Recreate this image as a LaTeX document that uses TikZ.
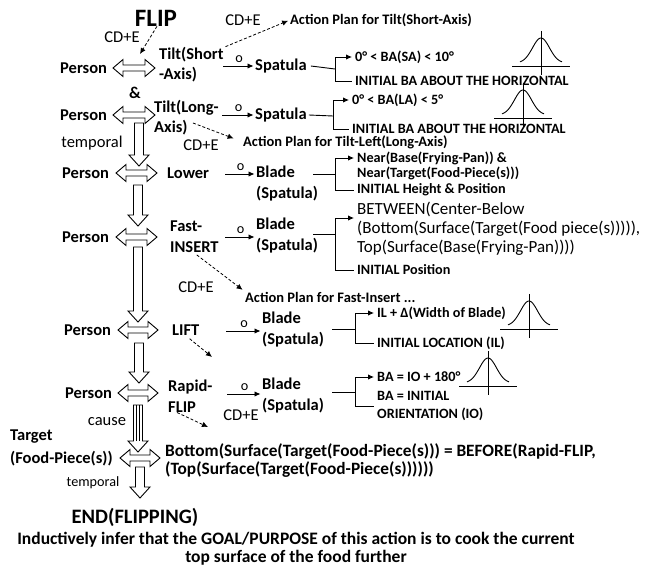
\documentclass[tikz,border=0pt]{standalone}
\usepackage{fontspec}
\setmainfont{Carlito}
\usetikzlibrary{arrows.meta,calc}

\newcommand\fsbig{\fontsize{16.5}{20}\selectfont}
\newcommand\fsnote{\fontsize{14.2}{16}\selectfont}

\tikzset{
  lbl/.style={
    inner sep = 0pt,            % text sits on its anchor
    anchor    = west,           % placed by its left edge
    align     = left,
    font      = \bfseries\fsbig,
  },
  note/.style={lbl, font=\bfseries\fsnote},
  plain/.style={lbl, anchor=center, font=\fsbig},
  twoline/.style={lbl, font=\bfseries\fontsize{16.5}{21}\selectfont},
  olbl/.style={midway, above=3pt, inner sep=0pt, font=\fsnote},
  hfat/.style={
    line width = .9pt,
    to path    = {let \p1=(\tikztostart), \p2=(\tikztotarget) in
      (\x1,\y1) -- (\x1+10pt,\y1+8.5pt) -- (\x1+10pt,\y1+3pt)
      -- (\x2-10pt,\y1+3pt) -- (\x2-10pt,\y1+8.5pt) -- (\x2,\y1)
      -- (\x2-10pt,\y1-8.5pt) -- (\x2-10pt,\y1-3pt)
      -- (\x1+10pt,\y1-3pt) -- (\x1+10pt,\y1-8.5pt) -- cycle},
  },
  vfat/.style={
    line width = .9pt,
    to path    = {let \p1=(\tikztostart), \p2=(\tikztotarget) in
      (\x1-4.5pt,\y1) -- (\x1-4.5pt,\y2+11pt) -- (\x1-10pt,\y2+11pt)
      -- (\x1,\y2) -- (\x1+10pt,\y2+11pt) -- (\x1+4.5pt,\y2+11pt)
      -- (\x1+4.5pt,\y1) -- cycle},
  },
  cfat/.style={
    line width = .9pt,
    to path    = {let \p1=(\tikztostart), \p2=(\tikztotarget) in
      (\x1-4.5pt,\y1) -- (\x1-4.5pt,\y2+11pt) -- (\x1-10pt,\y2+11pt)
      -- (\x1,\y2) -- (\x1+10pt,\y2+11pt) -- (\x1+4.5pt,\y2+11pt)
      -- (\x1+4.5pt,\y1) -- cycle
      (\x1-1.5pt,\y1) -- (\x1-1.5pt,\y2+11pt)
      (\x1+1.5pt,\y1) -- (\x1+1.5pt,\y2+11pt)},
  },
  dasharr/.style={line width=.8pt, dash pattern=on 3pt off 2pt,
    -{Latex[length=6pt,width=5.5pt]}},
  objarr/.style={line width=.9pt, shorten >=1.5pt,
    -{Latex[length=6pt,width=5.5pt]}},
  brk/.style={line width=.9pt, shorten >=3pt},
  bell/.pic={
    \draw [line width=.9pt] (-29,0) -- (29,0);
    \draw [line width=.9pt] (0,-35) -- (0,9);
    \draw [line width=.9pt] plot [domain=-21:21, samples=41, smooth]
      (\x, {-3-25*exp(-(\x*\x)/144)});
  },
}

\begin{document}
\begin{tikzpicture}[x=1pt, y=-1pt]
\useasboundingbox (0,0) rectangle (657,569);

% title
\node at (156,18) [lbl, anchor=center, font=\bfseries\fontsize{25}{28}\selectfont] (flip) {FLIP};
\node at (122,37) [plain] (cde1) {CD+E};
\coordinate (f1) at (140,54);
\draw [dasharr] ([xshift=1pt]flip.south) -- (f1);

% tilt about the short axis
\node at (60,68) [lbl] (person1) {Person};
\coordinate (l1w) at (113,68);
\coordinate (l1e) at (155,68);
\draw [hfat] (l1w) to (l1e);
\node at (159,65) [lbl] (tilt1) {Tilt(Short\\-Axis)};
\node at (255,66) [lbl] (spat1) {Spatula};
\coordinate (s1) at (223,66);
\draw [objarr] (s1) -- (spat1.west |- s1) node [olbl] (o1) {o};
\node at (243,20) [plain] (cde2) {CD+E};
\node at (290,20) [note, font=\bfseries\fontsize{14.5}{16}\selectfont] (act1) {Action Plan for Tilt(Short-Axis)};
\draw [dasharr, shorten <=2pt, shorten >=2pt] (tilt1.north east) -- (act1.west);
\node at (355,57) [note] (rng1) {0° < BA(SA) < 10°};
\node at (355,81) [note] (init1) {INITIAL BA ABOUT THE HORIZONTAL};
\coordinate (k1) at (335,69);
\draw [line width=.9pt] ([xshift=4pt]spat1.east) -- (k1);
\draw [brk, -{Latex[length=6pt,width=5.5pt]}] (k1) |- (rng1.west);
\draw [brk] (k1) |- (init1.west);
\pic at (541,66) {bell};

% tilt about the long axis
\node at (135,93) [lbl, anchor=center] (amp) {\&};
\node at (60,115) [lbl] (person2) {Person};
\coordinate (l2w) at (113,115);
\coordinate (l2e) at (155,115);
\draw [hfat] (l2w) to (l2e);
\node at (154,118) [lbl] (tilt2) {Tilt(Long-\\Axis)};
\node at (255,115) [lbl] (spat2) {Spatula};
\coordinate (s2) at (222,115);
\draw [objarr] (s2) -- (spat2.west |- s2) node [olbl] (o2) {o};
\node at (352,100) [note] (rng2) {0° < BA(LA) < 5°};
\node at (352,129) [note] (init2) {INITIAL BA ABOUT THE HORIZONTAL};
\coordinate (k2) at (333,116);
\draw [line width=.9pt] ([xshift=2pt]spat2.east) -- (k2);
\draw [brk, -{Latex[length=6pt,width=5.5pt]}] (k2) |- (rng2.west);
\draw [brk] (k2) |- (init2.west);
\pic at (523,118) {bell};
\coordinate (d2) at (193,123);
\node at (243,142) [note, font=\bfseries\fontsize{14.5}{16}\selectfont] (act2) {Action Plan for Tilt-Left(Long-Axis)};
\draw [dasharr, shorten >=10pt] (d2) -- (act2.west);
\node at (201,145) [plain] (cde3) {CD+E};
\node at (92,143) [plain] (temp1) {temporal};
\coordinate (v1a) at (139,123);
\coordinate (v1b) at (139,166);
\draw [vfat] (v1a) to (v1b);

% lower
\node at (62,173) [lbl] (person3) {Person};
\coordinate (l3w) at (116,173);
\coordinate (l3e) at (157,173);
\draw [hfat] (l3w) to (l3e);
\node at (167,173) [lbl] (lower) {Lower};
\node at (256,184) [twoline] (blade3) {Blade\\(Spatula)};
\coordinate (s3) at (225,174);
\draw [objarr] (s3) -- (blade3.west |- s3) node [olbl] (o3) {o};
\node at (357,158) [note] (near3a) {Near(Base(Frying-Pan)) \&};
\node at (357,173) [note] (near3b) {Near(Target(Food-Piece(s)))};
\node at (357,190) [note] (init3) {INITIAL Height \& Position};
\coordinate (k3) at (335,174);
\draw [line width=.9pt] ([xshift=-5pt]blade3.east |- k3) -- (k3);
\draw [brk, -{Latex[length=6pt,width=5.5pt]}] (k3) |- (near3a.west);
\draw [brk] (k3) |- (init3.west);
\coordinate (v2a) at (138,185);
\coordinate (v2b) at (138,226);
\draw [vfat] (v2a) to (v2b);

% fast insert
\node at (62,237) [lbl] (person4) {Person};
\coordinate (l4w) at (116,237);
\coordinate (l4e) at (157,237);
\draw [hfat] (l4w) to (l4e);
\node at (170,237) [twoline] (fast) {Fast-\\INSERT};
\node at (256,236) [twoline] (blade4) {Blade\\(Spatula)};
\coordinate (s4) at (225,237);
\draw [objarr] (s4) -- (blade4.west |- s4) node [olbl] (o4) {o};
\node at (357,229) [lbl, font=\fontsize{17}{19}\selectfont] (btw)
  {BETWEEN(Center-Below\\(Bottom(Surface(Target(Food piece(s))))),\\Top(Surface(Base(Frying-Pan))))};
\node at (357,270) [note] (init4) {INITIAL Position};
\coordinate (k4) at (335,234);
\draw [line width=.9pt] ([xshift=-5pt]blade4.east |- k4) -- (k4);
\draw [brk, -{Latex[length=6pt,width=5.5pt]}] (k4) |- ([yshift=11pt]btw.west);
\draw [brk] (k4) |- (init4.west);
\node at (196,287) [plain] (cde4) {CD+E};
\node at (245,297) [note, font=\bfseries\fontsize{14.5}{16}\selectfont] (act4) {Action Plan for Fast-Insert ...};
\draw [dasharr, shorten <=3pt, shorten >=3pt] (fast.south) -- (act4.north west);
\coordinate (v3a) at (138,247);
\coordinate (v3b) at (138,322);
\draw [vfat] (v3a) to (v3b);

% lift
\node at (64,330) [lbl] (person5) {Person};
\coordinate (l5w) at (118,330);
\coordinate (l5e) at (158,330);
\draw [hfat] (l5w) to (l5e);
\node at (172,330) [lbl] (lift) {LIFT};
\coordinate (e5) at (212,357);
\draw [dasharr, shorten <=5pt] (lift.south) -- (e5);
\node at (262,330) [twoline] (blade5) {Blade\\(Spatula)};
\coordinate (s5) at (226,331);
\draw [objarr] (s5) -- (blade5.west |- s5) node [olbl] (o5) {o};
\node at (377,313) [note] (rng5) {IL + Δ(Width of Blade)};
\node at (377,343) [note] (init5) {INITIAL LOCATION (IL)};
\coordinate (k5) at (355,329);
\draw [line width=.9pt] ([xshift=8pt]blade5.east |- k5) -- (k5);
\draw [brk, -{Latex[length=6pt,width=5.5pt]}] (k5) |- (rng5.west);
\draw [brk] (k5) |- (init5.west);
\pic at (529,329) {bell};
\coordinate (v4a) at (139,343);
\coordinate (v4b) at (139,383);
\draw [vfat] (v4a) to (v4b);

% rapid flip
\node at (65,393) [lbl] (person6) {Person};
\coordinate (l6w) at (118,393);
\coordinate (l6e) at (158,393);
\draw [hfat] (l6w) to (l6e);
\node at (168,396) [twoline] (rapid) {Rapid-\\FLIP};
\coordinate (e6) at (208,427);
\draw [dasharr] ([xshift=9pt]rapid.south west) -- (e6);
\node at (262,396) [twoline] (blade6) {Blade\\(Spatula)};
\coordinate (s6) at (227,394);
\draw [objarr] (s6) -- (blade6.west |- s6) node [olbl] (o6) {o};
\node at (241,415) [plain] (cde5) {CD+E};
\node at (377,377) [note] (rng6) {BA = IO + 180°};
\node at (377,406) [note, font=\bfseries\fontsize{14.2}{18}\selectfont] (init6) {BA = INITIAL\\ORIENTATION (IO)};
\coordinate (k6) at (355,392);
\draw [line width=.9pt] ([xshift=8pt]blade6.east |- k6) -- (k6);
\draw [brk, -{Latex[length=6pt,width=5.5pt]}] (k6) |- (rng6.west);
\draw [brk] (k6) |- (init6.west);
\pic at (488,386) {bell};
\node at (107,422) [plain] (cause) {cause};
\coordinate (v5a) at (138,405);
\coordinate (v5b) at (138,452);
\draw [cfat] (v5a) to (v5b);

% result on the food
\node at (10,448) [lbl, font=\bfseries\fontsize{16.5}{23}\selectfont] (target) {Target\\(Food-Piece(s))};
\coordinate (l7w) at (120,458);
\coordinate (l7e) at (160,458);
\draw [hfat] (l7w) to (l7e);
\node at (165,461) [lbl, font=\bfseries\fontsize{17.3}{18}\selectfont] (before)
  {Bottom(Surface(Target(Food-Piece(s))) = BEFORE(Rapid-FLIP,\\(Top(Surface(Target(Food-Piece(s))))))};
\node at (93,483) [plain, font=\fsnote] (temp2) {temporal};
\coordinate (v6a) at (140,467);
\coordinate (v6b) at (140,498);
\draw [vfat] (v6a) to (v6b);
\node at (135,517) [lbl, anchor=center, font=\bfseries\fontsize{20.5}{24}\selectfont] (endf) {END(FLIPPING)};
\node at (296,549) [lbl, anchor=center, align=center, font=\bfseries\fontsize{17.5}{18}\selectfont] (goal)
  {Inductively infer that the GOAL/PURPOSE of this action is to cook the current\\top surface of the food further};
\end{tikzpicture}
\end{document}
